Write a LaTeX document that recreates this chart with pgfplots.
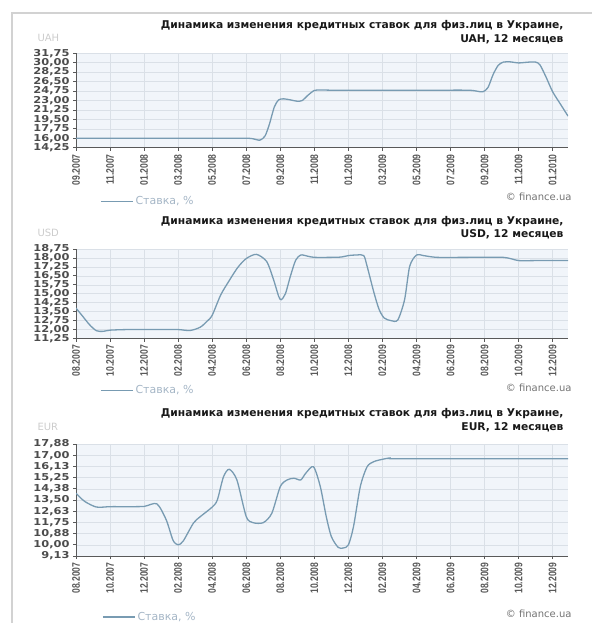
\documentclass[border=0pt]{standalone}
\usepackage{fontspec}
\setmainfont{DejaVu Sans}
\newfontfamily\tickfont[FakeStretch=0.78]{Liberation Sans}
\newfontfamily\ytickfont[FakeStretch=1.2]{DejaVu Sans}
\usepackage{pgfplots}
\pgfplotsset{compat=1.18}
\definecolor{lineblue}{RGB}{120,155,178}
\definecolor{bgc}{RGB}{241,245,250}
\definecolor{gridc}{RGB}{218,224,231}
\definecolor{legc}{RGB}{165,182,198}
\pgfplotsset{
  ratechart/.style={
    scale only axis, width=492pt,
    xmin=0, xmax=28.9,
    axis x line*=bottom, axis y line*=left,
    axis line style={-, black!65, line width=0.9pt},
    tick style={black!65, line width=0.8pt},
    tick align=outside, major tick length=3pt,
    xtick={0,2,...,28},
    xmajorgrids, ymajorgrids,
    major grid style={gridc, line width=0.6pt},
    axis background/.style={fill=bgc},
    xticklabel style={rotate=90, anchor=east, font=\tickfont\bfseries\fontsize{11}{11}\selectfont, text=black!65},
    yticklabel style={font=\ytickfont\bfseries\fontsize{9.5}{9.5}\selectfont, text=black!70, inner ysep=0pt},
    legend image code/.code={\draw[##1] (0pt,0pt) -- (32pt,0pt);},
    legend style={draw=none, fill=none, font=\fontsize{11}{11}\selectfont, text=legc, anchor=west, inner sep=0pt, legend cell align=left},
  },
  ser/.style={lineblue, line width=1.3pt, smooth, tension=0.45},
}
\tikzset{ttl/.style={anchor=east, font=\bfseries\fontsize{10.7}{10.7}\selectfont, text=black!90}}
\begin{document}
\begin{tikzpicture}
\useasboundingbox (0,0) rectangle (592pt,-623pt);
\draw[gray!35, line width=1.5pt] (12pt,-623pt) -- (12pt,-13pt) -- (592pt,-13pt);

% ---------- UAH ----------
\node[ttl] at (567pt,-26pt) {Динамика изменения кредитных ставок для физ.лиц в Украине,};
\node[ttl] at (567pt,-39pt) {UAH, 12 месяцев};
\node[anchor=west, font=\fontsize{10}{10}\selectfont, text=gray!40] at (34pt,-38pt) {UAH};
\node[anchor=east, font=\fontsize{10}{10}\selectfont, text=black!55] at (575pt,-197pt) {© finance.ua};
\begin{axis}[ratechart, at={(76pt,-147.7pt)}, anchor=south west, height=94.5pt,
  ymin=14.25, ymax=31.75,
  ytick={14.25,16,17.75,19.5,21.25,23,24.75,26.5,28.25,30,31.75},
  yticklabels={{14,25},{16,00},{17,75},{19,50},{21,25},{23,00},{24,75},{26,50},{28,25},{30,00},{31,75}},
  xticklabels={09.2007,11.2007,01.2008,03.2008,05.2008,07.2008,09.2008,11.2008,01.2009,03.2009,05.2009,07.2009,09.2009,11.2009,01.2010},
  legend style={at={(axis description cs:0.0488,-0.568)}}]
\addplot[ser] coordinates {
(0,16.0) (2,16.0) (4,16.0) (6,16.0) (8,16.0) (10,16.0) (10.4,15.9) (10.8,15.65)
(11.1,16.4) (11.35,18.5) (11.65,21.8) (11.9,23.1) (12.2,23.3) (12.6,23.1) (13.0,22.85)
(13.3,23.0) (13.6,23.9) (14.0,24.85) (14.4,24.95) (15,24.9) (17,24.9) (19,24.9) (21,24.9)
(23,24.9) (23.5,24.75) (23.9,24.6) (24.2,25.4) (24.5,27.8) (24.8,29.5) (25.1,30.1)
(25.5,30.15) (26.0,29.95) (26.6,30.1) (27.0,30.1) (27.25,29.6) (27.6,27.4) (28.0,24.6)
(28.5,22.1) (28.9,20.1)};
\addlegendentry{Ставка, \%}
\end{axis}

% ---------- USD ----------
\node[ttl] at (567pt,-222pt) {Динамика изменения кредитных ставок для физ.лиц в Украине,};
\node[ttl] at (567pt,-234.5pt) {USD, 12 месяцев};
\node[anchor=west, font=\fontsize{10}{10}\selectfont, text=gray!40] at (34pt,-233pt) {USD};
\node[anchor=east, font=\fontsize{10}{10}\selectfont, text=black!55] at (575pt,-388pt) {© finance.ua};
\begin{axis}[ratechart, at={(76pt,-338.5pt)}, anchor=south west, height=89.5pt,
  ymin=11.25, ymax=18.75,
  ytick={11.25,12,12.75,13.5,14.25,15,15.75,16.5,17.25,18,18.75},
  yticklabels={{11,25},{12,00},{12,75},{13,50},{14,25},{15,00},{15,75},{16,50},{17,25},{18,00},{18,75}},
  xticklabels={08.2007,10.2007,12.2007,02.2008,04.2008,06.2008,08.2008,10.2008,12.2008,02.2009,04.2009,06.2009,08.2009,10.2009,12.2009},
  legend style={at={(axis description cs:0.0488,-0.58)}}]
\addplot[ser] coordinates {
(0,13.8) (0.4,13.1) (0.8,12.4) (1.2,11.9) (1.6,11.85) (2,11.95) (3,12.0) (4,12.0) (5,12.0)
(6,12.0) (6.7,11.92) (7.3,12.2) (7.7,12.7) (8,13.2) (8.5,14.9) (9,16.1) (9.5,17.2) (10,17.95)
(10.6,18.3) (11.2,17.7) (11.6,16.2) (11.9,14.8) (12.05,14.5) (12.3,15.0) (12.6,16.5)
(12.9,17.8) (13.2,18.25) (13.6,18.15) (14,18.05) (15,18.05) (15.6,18.08) (16.0,18.2)
(16.5,18.25) (16.9,18.2) (17.1,17.3) (17.5,15.1) (17.8,13.7) (18.1,12.97) (18.5,12.75)
(18.9,12.8) (19.3,14.5) (19.6,17.3) (20.0,18.25) (20.4,18.2) (21.2,18.05) (23,18.05)
(25.1,18.05) (26.0,17.78) (27,17.78) (28.9,17.78)};
\addlegendentry{Ставка, \%}
\end{axis}

% ---------- EUR ----------
\node[ttl] at (567pt,-414pt) {Динамика изменения кредитных ставок для физ.лиц в Украине,};
\node[ttl] at (567pt,-427.5pt) {EUR, 12 месяцев};
\node[anchor=west, font=\fontsize{10}{10}\selectfont, text=gray!40] at (34pt,-427pt) {EUR};
\node[anchor=east, font=\fontsize{10}{10}\selectfont, text=black!55] at (575pt,-614pt) {© finance.ua};
\begin{axis}[ratechart, at={(76pt,-556pt)}, anchor=south west, height=112pt,
  ymin=9.125, ymax=17.875,
  ytick={9.125,10,10.875,11.75,12.625,13.5,14.375,15.25,16.125,17,17.875},
  yticklabels={{9,13},{10,00},{10,88},{11,75},{12,63},{13,50},{14,38},{15,25},{16,13},{17,00},{17,88}},
  xticklabels={08.2007,10.2007,12.2007,02.2008,04.2008,06.2008,08.2008,10.2008,12.2008,02.2009,04.2009,06.2009,08.2009,10.2009,12.2009},
  legend style={at={(axis description cs:0.0529,-0.545)}}]
\addplot[ser] coordinates {
(0,14.03) (0.5,13.4) (1.2,12.95) (2,12.98) (3,12.98) (4,13.0) (4.75,13.2) (5.3,11.95)
(5.7,10.35) (6.0,10.0) (6.3,10.3) (6.9,11.7) (7.3,12.2) (8,12.95) (8.3,13.5) (8.66,15.3)
(9.0,15.9) (9.45,15.07) (10,12.2) (10.4,11.73) (11,11.73) (11.5,12.46) (12,14.55) (12.4,15.07)
(12.8,15.2) (13.2,15.07) (13.5,15.6) (13.95,16.1) (14.35,14.55) (14.7,12.2) (15.0,10.64)
(15.4,9.8) (15.7,9.75) (16.0,9.99) (16.3,11.42) (16.7,14.55) (17.1,16.1) (17.5,16.5)
(18,16.68) (18.5,16.79) (19,16.72) (28.9,16.72)};
\addlegendentry{Ставка, \%}
\end{axis}
\end{tikzpicture}
\end{document}
